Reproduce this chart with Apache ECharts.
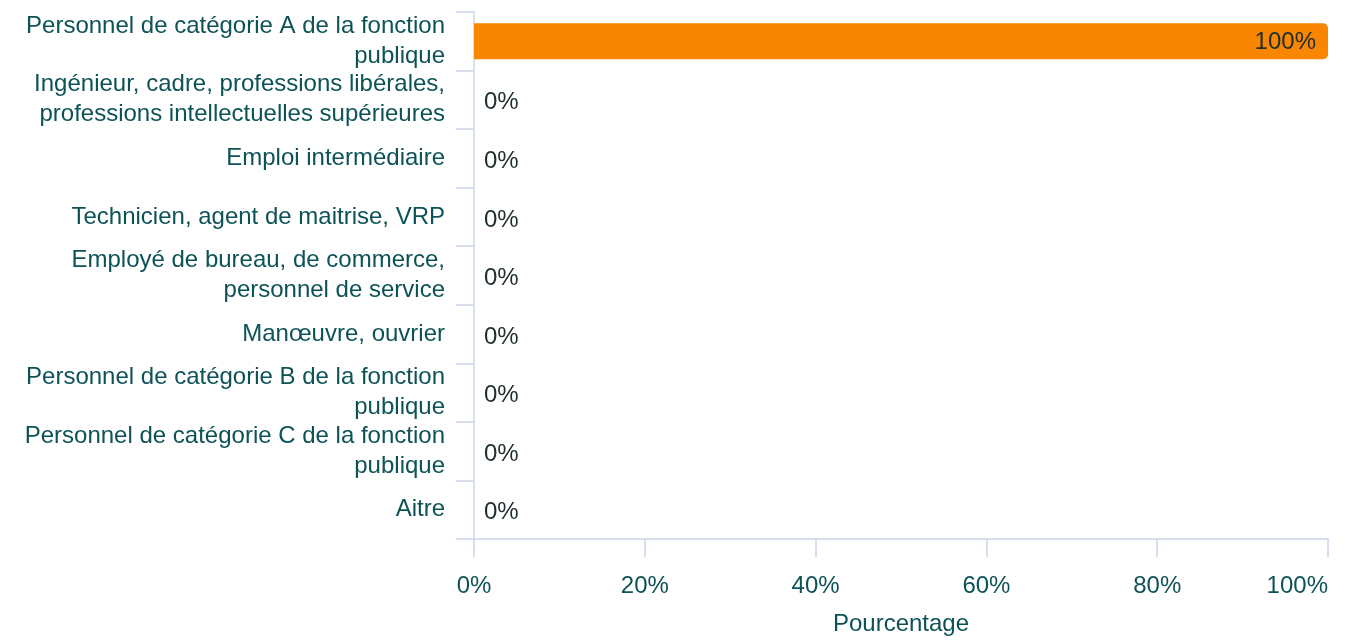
<!DOCTYPE html>
<html>
<head>
<meta charset="utf-8">
<script src="https://cdn.jsdelivr.net/npm/echarts@6/dist/echarts.min.js"></script>
<style>
  html, body { margin: 0; padding: 0; background: #fff; }
  #chart { width: 1345px; height: 642px; }
</style>
</head>
<body>
<div id="chart"></div>
<script>
// tick labels, wrapped as in the picture
const categories = [
    "Personnel de catégorie A de la fonction\npublique",
    "Ingénieur, cadre, professions libérales,\nprofessions intellectuelles supérieures",
    "Emploi intermédiaire",
    "Technicien, agent de maitrise, VRP",
    "Employé de bureau, de commerce,\npersonnel de service",
    "Manœuvre, ouvrier",
    "Personnel de catégorie B de la fonction\npublique",
    "Personnel de catégorie C de la fonction\npublique",
    "Aitre"
];
const values = [100, 0, 0, 0, 0, 0, 0, 0, 0];
const xTicks = [0, 20, 40, 60, 80, 100];

const axisColor = "#ccd6eb";
const textColor = "#0d5257";
const font = "Liberation Sans, Arial, sans-serif";

let chart = echarts.init(document.getElementById("chart"));
chart.setOption({
    animation: false,
    grid: {
        left: 474,
        right: 17,
        top: 12,
        bottom: 103,
        outerBoundsMode: "none"
    },
    xAxis: {
        type: "value",
        min: xTicks[0],
        max: xTicks[xTicks.length - 1],
        interval: 20,
        name: "Pourcentage",
        nameLocation: "middle",
        nameGap: 73,
        nameTextStyle: { color: textColor, fontSize: 24, fontFamily: font },
        axisLine: { show: true, lineStyle: { color: axisColor, width: 1.5 } },
        axisTick: { show: true, length: 18, lineStyle: { color: axisColor, width: 1.5 } },
        axisLabel: {
            color: textColor,
            fontSize: 24,
            fontFamily: font,
            margin: 35,
            alignMaxLabel: "right",
            formatter: "{value}%"
        },
        splitLine: { show: false }
    },
    yAxis: {
        type: "category",
        inverse: true,
        data: categories,
        axisLine: { show: true, lineStyle: { color: axisColor, width: 1.5 } },
        axisTick: { show: true, length: 18, lineStyle: { color: axisColor, width: 1.5 } },
        axisLabel: {
            interval: 0,
            color: textColor,
            fontSize: 24,
            fontFamily: font,
            margin: 29,
            lineHeight: 30,
            padding: [6, 0, 0, 0],
            align: "right"
        }
    },
    series: [
        {
            type: "bar",
            barWidth: 36,
            data: values.map(v => ({
                value: v,
                label: {
                    show: true,
                    position: v >= 50 ? "insideRight" : "right",
                    distance: v >= 50 ? 12 : 10,
                    offset: [0, v >= 50 ? 1 : 3]
                }
            })),
            itemStyle: { color: "#f98600", borderRadius: [0, 5, 5, 0] },
            label: {
                color: "#1e2d2d",
                fontSize: 24,
                fontFamily: font,
                formatter: p => p.value + "%"
            }
        }
    ]
});
</script>
</body>
</html>
